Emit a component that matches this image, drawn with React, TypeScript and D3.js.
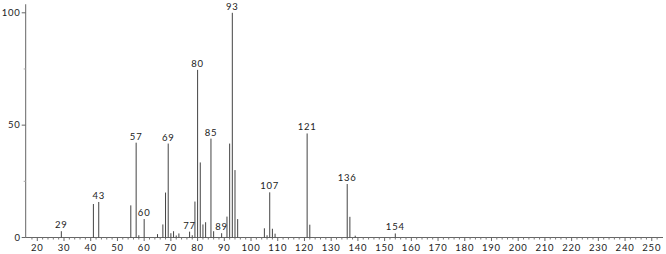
import React from "react";
import * as d3 from "d3";

const mzValues = [29, 41, 43, 55, 57, 58, 60, 65, 67, 68, 69, 70, 71, 72, 73, 77, 78, 79, 80, 81, 82, 83, 85, 86, 89, 91, 92, 93, 94, 95, 105, 106, 107, 108, 109, 121, 122, 136, 137, 139, 154];
const intensities = [2.8, 14.9, 15.8, 14.3, 42.2, 1, 8.2, 1.5, 5.8, 20, 41.8, 1.9, 2.8, 0.9, 1.8, 2.6, 1, 16, 74.6, 33.4, 5.8, 6.8, 44, 2.8, 1.9, 9.3, 41.8, 100, 30, 8.2, 4.1, 1, 20.1, 3.9, 1.7, 46.3, 5.7, 23.8, 9.2, 0.8, 1.8];
const labeledPeaks = [29, 43, 57, 60, 69, 77, 80, 85, 89, 93, 107, 121, 136, 154];
const xTickLabels = [20, 30, 40, 50, 60, 70, 80, 90, 100, 110, 120, 130, 140, 150, 160, 170, 180, 190, 200, 210, 220, 230, 240, 250];
const yTickLabels = [0, 50, 100];
const yMinorTicks = [25, 75];

const W = 666;
const H = 254;
const FONT = "Lato, 'DejaVu Sans', sans-serif";

export default function App() {
  const x = d3.scaleLinear().domain([15.66, 254.2]).range([25.7, 663]);
  const y = d3.scaleLinear().domain([0, 100]).range([237.5, 12.8]);
  const x0 = x.range()[0];
  const x1 = x.range()[1];
  const yBase = y(0);
  const yTop = y(103.8);
  const minorX = d3.range(18, 254, 2).filter((v) => v % 10 !== 0);
  const peaks = mzValues.map((m, i) => ({ m, v: intensities[i] }));

  return (
    <svg
      width={W}
      height={H}
      style={{ position: "absolute", left: 0, top: 0, background: "#fff" }}
    >
      <rect x={0} y={0} width={W} height={H} fill="#fff" />
      {/* axes */}
      <line x1={x0} x2={x0} y1={yTop} y2={yBase} stroke="#666" strokeWidth={1} />
      <line x1={x0} x2={x1} y1={yBase} y2={yBase} stroke="#666" strokeWidth={1} />
      {/* y ticks */}
      {yTickLabels.map((t) => (
        <g key={"y" + t}>
          <line x1={x0 - 4} x2={x0} y1={y(t)} y2={y(t)} stroke="#666" />
          <text
            x={x0 - 5}
            y={y(t)}
            dy="0.35em"
            textAnchor="end"
            fontFamily={FONT}
            fontSize={9.5}
            letterSpacing={0.8}
            fill="#222"
          >
            {t}
          </text>
        </g>
      ))}
      {yMinorTicks.map((t) => (
        <line key={"ym" + t} x1={x0 - 2} x2={x0} y1={y(t)} y2={y(t)} stroke="#aaa" />
      ))}
      {/* x ticks */}
      {xTickLabels.map((t) => (
        <g key={"x" + t}>
          <line x1={x(t)} x2={x(t)} y1={yBase} y2={yBase + 3.5} stroke="#666" />
          <text
            x={x(t)}
            y={yBase + 13}
            textAnchor="middle"
            fontFamily={FONT}
            fontSize={9.5}
            letterSpacing={0.8}
            fill="#222"
          >
            {t}
          </text>
        </g>
      ))}
      {minorX.map((t) => (
        <line key={"xm" + t} x1={x(t)} x2={x(t)} y1={yBase} y2={yBase + 2} stroke="#777" />
      ))}
      {/* peaks */}
      {peaks.map((p) => (
        <line
          key={"p" + p.m}
          x1={x(p.m)}
          x2={x(p.m)}
          y1={yBase}
          y2={y(p.v)}
          stroke="#444"
          strokeWidth={1}
        />
      ))}
      {/* peak labels */}
      {peaks
        .filter((p) => labeledPeaks.includes(p.m))
        .map((p) => (
          <text
            key={"l" + p.m}
            x={x(p.m)}
            y={y(p.v) - 3}
            textAnchor="middle"
            fontFamily={FONT}
            fontSize={9.5}
            letterSpacing={0.8}
            fill="#222"
          >
            {p.m}
          </text>
        ))}
    </svg>
  );
}
